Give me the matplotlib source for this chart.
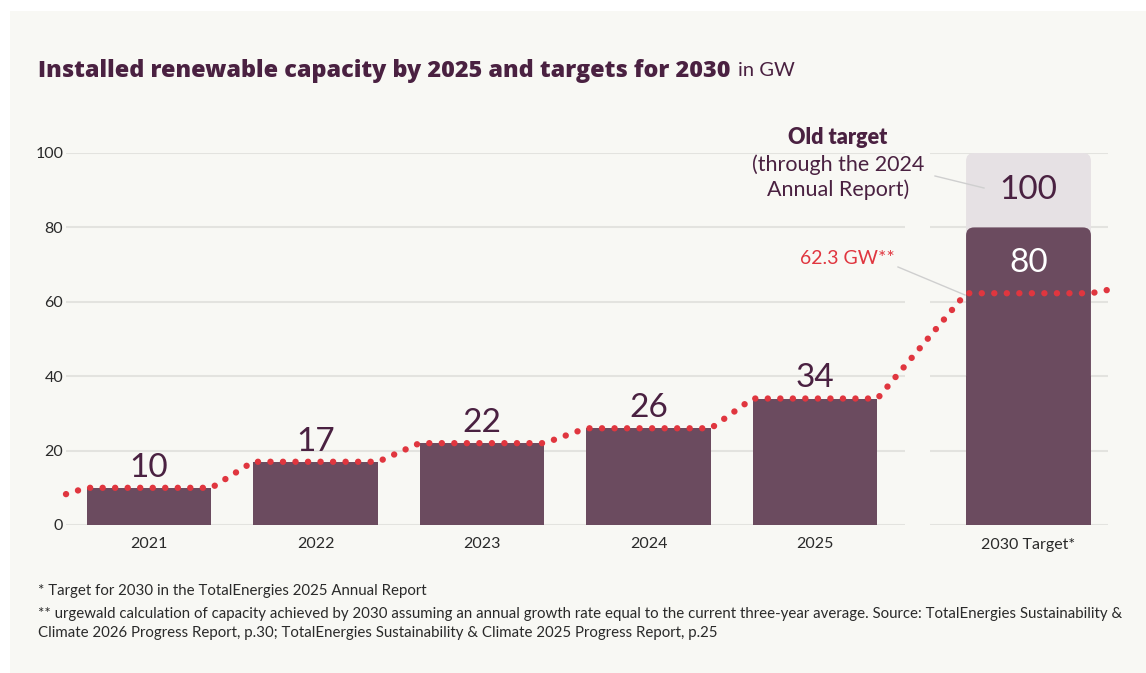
import matplotlib
matplotlib.use("Agg")
import matplotlib.pyplot as plt
from matplotlib.patches import FancyBboxPatch, Rectangle
import numpy as np

# ---- data ----
years = ["2021", "2022", "2023", "2024", "2025"]
installed = [10, 17, 22, 26, 34]
target_label = "2030 Target*"
target_new = 80
target_old = 100
projection_2030 = 62.3
proj_start = 8.3     # dotted line value at left edge
proj_end = 63.2      # dotted line value at right edge
yticks = [0, 20, 40, 60, 80, 100]

# ---- style ----
BG = "#f8f8f4"
DARK = "#6b4b5f"
LIGHT = "#e6e1e4"
TITLE = "#4a2141"
RED = "#e0363f"
GRID = "#e3e3df"
TXT = "#2a2a2a"
FONT = ["Lato", "DejaVu Sans"]
plt.rcParams["font.family"] = FONT

W, H = 1146, 673
fig = plt.figure(figsize=(W / 100, H / 100), dpi=100)
fig.patch.set_facecolor("white")
fig.add_artist(Rectangle((10 / W, 0), 1, 1 - 11 / H, transform=fig.transFigure,
                         facecolor=BG, edgecolor="none", zorder=-10))

ax_l, ax_r, ax_t, ax_b = 66, 1108, 153, 525
ax = fig.add_axes([ax_l / W, (H - ax_b) / H, (ax_r - ax_l) / W, (ax_b - ax_t) / H])
ax.set_facecolor("none")
for s in ax.spines.values():
    s.set_visible(False)

px_per_unit = 166.5
x0_px = 149
xmin = (ax_l - x0_px) / px_per_unit
xmax = (ax_r - x0_px) / px_per_unit
ax.set_xlim(xmin, xmax)
ax.set_ylim(0, 100)

n = len(years)
xs = np.arange(n)
x_target = 4 + (1026 - 812.5) / px_per_unit
bw = 0.75
gap_l = (905 - x0_px) / px_per_unit
gap_r = (930 - x0_px) / px_per_unit

# grid lines (broken before target)
for yv in yticks:
    ax.plot([xmin, gap_l], [yv, yv], color=GRID, lw=1.5, zorder=0, solid_capstyle="butt")
    ax.plot([gap_r, xmax], [yv, yv], color=GRID, lw=1.5, zorder=0, solid_capstyle="butt")

ax.bar(xs, installed, width=bw, color=DARK, zorder=2)

# 2030 target bars with rounded top corners
ypx = (ax_b - ax_t) / 100.0
aspect = px_per_unit / ypx
r = 8 / px_per_unit
light = FancyBboxPatch((x_target - bw / 2, 0), bw, target_old,
                       boxstyle=f"round,pad=0,rounding_size={r}",
                       mutation_aspect=aspect, facecolor=LIGHT, edgecolor="none",
                       zorder=1, clip_on=False)
ax.add_patch(light)
dark = FancyBboxPatch((x_target - bw / 2, 0), bw, target_new,
                      boxstyle=f"round,pad=0,rounding_size={r}",
                      mutation_aspect=aspect, facecolor=DARK, edgecolor="none",
                      zorder=2, clip_on=False)
ax.add_patch(dark)
ax.add_patch(Rectangle((x_target - bw / 2, 0), bw, target_new / 2,
                       facecolor=DARK, edgecolor="none", zorder=2))

# dotted projection line
lx = [xmin]
ly = [proj_start]
for xi, v in zip(list(xs) + [x_target], installed + [projection_2030]):
    lx += [xi - bw / 2, xi + bw / 2]
    ly += [v, v]
lx.append(xmax)
ly.append(proj_end)
ax.plot(lx, ly, color=RED, lw=4.6, linestyle=(0, (0.01, 1.95)),
        dash_capstyle="round", zorder=4, clip_on=False)

# value labels
for xi, v in zip(xs, installed):
    ax.annotate(str(v), (xi, v), xytext=(0, 8), textcoords="offset points",
                ha="center", va="baseline", fontsize=24, color=TITLE, zorder=5)
ax.text(x_target, 90, str(target_old), ha="center", va="center",
        fontsize=24, color=TITLE, zorder=5)
ax.text(x_target, 70.5, str(target_new), ha="center", va="center",
        fontsize=24, color="white", zorder=5)

# ticks
ax.set_xticks(list(xs) + [x_target])
ax.set_xticklabels(years + [target_label], fontsize=11.5, color=TXT)
ax.set_yticks(yticks)
ax.set_yticklabels([str(t) for t in yticks], fontsize=11.5, color=TXT)
ax.tick_params(length=0, pad=9)
ax.tick_params(axis="y", pad=2)


def px2data(px, py):
    return ((px - x0_px) / px_per_unit, (ax_b - py) / ypx)


# old target annotation
cx, cy = px2data(838, 138)
ax.text(cx, cy, "Old target", ha="center", va="center", fontsize=15.5,
        fontweight="heavy", color=TITLE, clip_on=False)
cx, cy = px2data(838, 177)
ax.text(cx, cy, "(through the 2024\nAnnual Report)", ha="center", va="center",
        fontsize=15.5, color=TITLE, linespacing=1.25, clip_on=False)
a = px2data(935, 176)
b = px2data(984, 188)
ax.plot([a[0], b[0]], [a[1], b[1]], color="#cfcfcf", lw=1, zorder=3)

cx, cy = px2data(847, 259)
ax.text(cx, cy, "62.3 GW**", ha="center", va="center", fontsize=14,
        color=RED, clip_on=False)
a = px2data(898, 267)
b = px2data(965, 295)
ax.plot([a[0], b[0]], [a[1], b[1]], color="#cfcfcf", lw=1, zorder=3)

# title (heavy face, sized to span the same width as the reference)
t = fig.text(38 / W, 1 - 71 / H, "Installed renewable capacity by 2025 and targets for 2030",
             fontsize=16, fontweight=800, color=TITLE, va="center", ha="left",
             family=["Open Sans", "DejaVu Sans"])
fig.canvas.draw()
bb = t.get_window_extent()
t.set_fontsize(16 * (730 - 38) / bb.width)
fig.canvas.draw()
bb = t.get_window_extent()
fig.text(bb.x1 / W + 8 / W, 1 - 71 / H, "in GW", fontsize=14.5, color=TITLE,
         va="center", ha="left")

# footnotes
FN = 10.8
fig.text(38 / W, 1 - 591 / H, "* Target for 2030 in the TotalEnergies 2025 Annual Report",
         fontsize=FN, color=TXT, va="center")
fig.text(38 / W, 1 - 614 / H,
         "** urgewald calculation of capacity achieved by 2030 assuming an annual growth rate equal to the current three-year average. Source: TotalEnergies Sustainability &",
         fontsize=FN, color=TXT, va="center")
fig.text(38 / W, 1 - 633 / H,
         "Climate 2026 Progress Report, p.30; TotalEnergies Sustainability & Climate 2025 Progress Report, p.25",
         fontsize=FN, color=TXT, va="center")

fig.savefig("out.png", dpi=100, facecolor=fig.get_facecolor())
